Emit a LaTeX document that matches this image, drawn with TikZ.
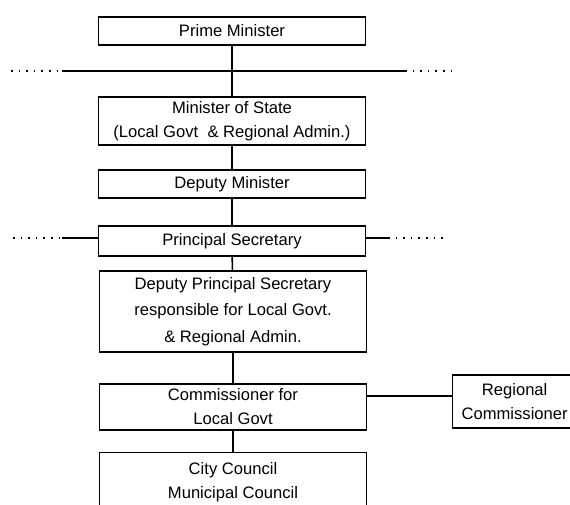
\documentclass[tikz,border=0pt]{standalone}
\usepackage{fontspec}
\setmainfont{Liberation Sans}
\begin{document}
\begin{tikzpicture}[x=1pt,y=-1pt,
  box/.style={draw, line width=1.3pt, inner sep=0pt, align=center,
    minimum width=267pt, font=\fontsize{16.6}{24}\selectfont},
  conn/.style={line width=1.6pt},
  dotl/.style={line width=1.6pt, dash pattern=on 1.6pt off 6pt},
  solidl/.style={line width=1.1pt}]
\clip (0,0) rectangle (570,504);
\fill[white] (0,0) rectangle (570,504);

\node[box, minimum height=28pt] (pm) at (232,31) {Prime Minister};
\node[box, minimum height=48pt] (ms) at (232,121) {Minister of State\\(Local Govt \ \& Regional Admin.)};
\node[box, minimum height=28pt] (dm) at (232,184) {Deputy Minister};
\node[box, minimum height=30pt] (ps) at (232,241) {Principal Secretary};
\node[box, minimum height=81pt, font=\fontsize{16.6}{26.5}\selectfont] (dps) at (233,311.5) {Deputy Principal Secretary\\responsible for Local Govt.\\\& Regional Admin.};
\node[box, minimum height=46pt] (cm) at (233,407) {Commissioner for\\Local Govt};
\node[box, anchor=north, inner ysep=10pt] (cc) at (233,452) {City Council\\Municipal Council};
\node[box, minimum width=124pt, minimum height=53pt, anchor=west] (rc) at (452,401.5) {Regional\\Commissioner};

% horizontal line under the Prime Minister
\coordinate (l1) at (11,71);
\coordinate (l2) at (62,71);
\coordinate (l3) at (405,71);
\coordinate (l4) at (454,71);
\draw[dotl] (l1) -- (l2);
\draw[solidl] (l2) -- (l3);
\draw[dotl] (l3) -- (l4);

% lines beside the Principal Secretary
\coordinate (p1) at (13,238);
\coordinate (p2) at (62,238);
\coordinate (p3) at (388,238);
\coordinate (p4) at (447,238);
\draw[dotl] (p1) -- (p2);
\draw[solidl] (p2) -- (ps.west |- p2);
\draw[solidl] (ps.east |- p3) -- (p3);
\draw[dotl] (p3) -- (p4);

% vertical connectors
\draw[line width=2.2pt] (pm) -- (ms);
\draw[conn] (ms) -- (dm);
\draw[line width=2.2pt] (dm) -- (ps);
\draw[conn] (ps) -- (dps);
\draw[conn] (dps) -- (cm);
\draw[conn] (cm) -- (cc);
\draw[solidl] (cm.east |- 0,396) -- (rc.west |- 0,396);
\end{tikzpicture}
\end{document}
